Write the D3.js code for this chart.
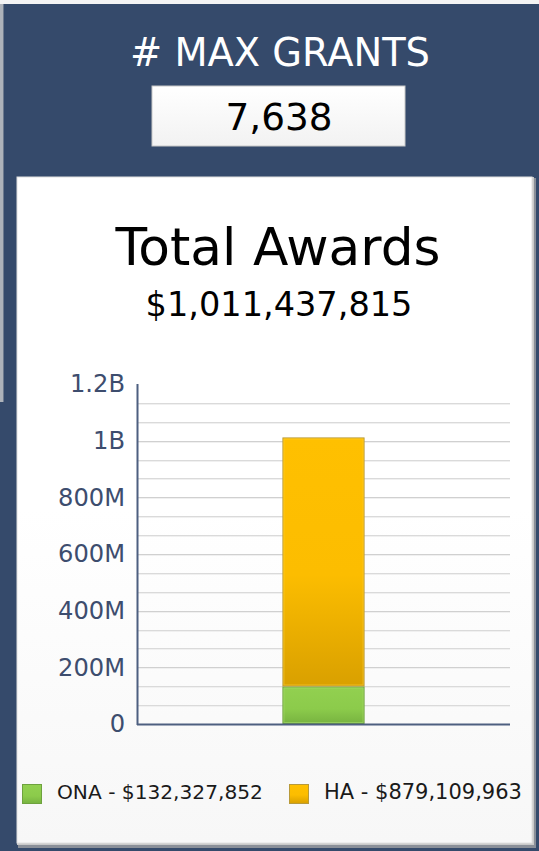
<!DOCTYPE html>
<html>
<head>
<meta charset="utf-8">
<script src="https://cdn.jsdelivr.net/npm/d3@7/dist/d3.min.js"></script>
<style>
html,body{margin:0;padding:0;background:#354a6b;}
svg{display:block;}
</style>
</head>
<body>
<svg id="c" width="539" height="851"></svg>
<script>
// ---- data ----
const headerTitle = "# MAX GRANTS";
const headerValue = "7,638";
const chartTitle = "Total Awards";
const chartSubtitle = "$1,011,437,815";
const categories = ["Total"];
const seriesNames = ["ONA", "HA"];
const seriesValues = [132327852, 879109963];
const legendLabels = ["ONA - $132,327,852", "HA - $879,109,963"];
const tickValues = [0, 200e6, 400e6, 600e6, 800e6, 1000e6, 1200e6];
const tickLabels = ["0", "200M", "400M", "600M", "800M", "1B", "1.2B"];

const svg = d3.select("#c");
const W = 539, H = 851;
const FONT = "'DejaVu Sans', Verdana, sans-serif";

const defs = svg.append("defs");
function grad(id, stops, x2 = 0, y2 = 1) {
  const g = defs.append("linearGradient").attr("id", id)
    .attr("x1", 0).attr("y1", 0).attr("x2", x2).attr("y2", y2);
  stops.forEach(s => g.append("stop").attr("offset", s[0]).attr("stop-color", s[1]));
}
grad("gHA", [[0, "#ffc000"], [0.55, "#fcbd00"], [1, "#d9a000"]]);
grad("gONA", [[0, "#92d050"], [0.6, "#8ccb4b"], [1, "#77b340"]]);
grad("gPanel", [[0, "#ffffff"], [0.5, "#ffffff"], [1, "#f7f7f7"]]);
grad("gBox", [[0, "#ffffff"], [1, "#f2f2f2"]]);

// background
svg.append("rect").attr("width", W).attr("height", H).attr("fill", "#354a6b");
svg.append("rect").attr("x", 0).attr("y", 0).attr("width", W).attr("height", 4).attr("fill", "#f4f4f4");
svg.append("rect").attr("x", 0).attr("y", 4).attr("width", 3).attr("height", 398).attr("fill", "#aeb3ba");
svg.append("rect").attr("x", 3).attr("y", 4).attr("width", 1).attr("height", 398).attr("fill", "#6d7a8e");

function fit(sel, target, base) {
  const w = sel.node().getComputedTextLength();
  sel.attr("font-size", base * target / w);
}

// header
const ht = svg.append("text").attr("x", 280).attr("y", 66).attr("text-anchor", "middle")
  .attr("font-family", FONT).attr("fill", "#ffffff").attr("font-size", 36).text(headerTitle);
fit(ht, 300, 36);

svg.append("rect").attr("x", 152).attr("y", 86).attr("width", 253).attr("height", 60)
  .attr("fill", "url(#gBox)").attr("stroke", "#c8c8c8").attr("stroke-width", 1);
const hv = svg.append("text").attr("x", 279).attr("y", 130).attr("text-anchor", "middle")
  .attr("font-family", FONT).attr("fill", "#000").attr("font-size", 36).text(headerValue);
fit(hv, 107, 36);

// panel with shadow
svg.append("rect").attr("x", 18).attr("y", 178).attr("width", 518).attr("height", 670).attr("fill", "#8a8f98");
svg.append("rect").attr("x", 17).attr("y", 177).attr("width", 517).attr("height", 668).attr("fill", "#c9c9c9");
svg.append("rect").attr("x", 17).attr("y", 177).attr("width", 515).attr("height", 666).attr("fill", "url(#gPanel)")
  .attr("stroke", "#e0e0e0").attr("stroke-width", 1);

const t1 = svg.append("text").attr("x", 278).attr("y", 265).attr("text-anchor", "middle")
  .attr("font-family", FONT).attr("fill", "#000").attr("font-size", 48).text(chartTitle);
fit(t1, 325, 48);
const t2 = svg.append("text").attr("x", 279).attr("y", 316).attr("text-anchor", "middle")
  .attr("font-family", FONT).attr("fill", "#000").attr("font-size", 30).text(chartSubtitle);
fit(t2, 267, 30);

// plot
const plot = {left: 137, right: 510, top: 384, bottom: 724};
const y = d3.scaleLinear().domain([0, 1.2e9]).range([plot.bottom, plot.top]);
const x = d3.scaleBand().domain(categories).range([plot.left, plot.right]).paddingInner(0).paddingOuter(1.77);

// gridlines every 200M/3
const gridVals = d3.range(1, 18).map(i => i * 200e6 / 3);
const g = svg.append("g");
g.selectAll("line.gs").data(gridVals).join("line")
  .attr("x1", plot.left).attr("x2", plot.right)
  .attr("y1", d => Math.round(y(d)) + 1.5).attr("y2", d => Math.round(y(d)) + 1.5)
  .attr("stroke", "#f0f0f0").attr("stroke-width", 1);
g.selectAll("line.gl").data(gridVals).join("line")
  .attr("x1", plot.left).attr("x2", plot.right)
  .attr("y1", d => Math.round(y(d)) + 0.5).attr("y2", d => Math.round(y(d)) + 0.5)
  .attr("stroke", d => (Math.round(d / 1e6) % 200 === 0) ? "#d0d0d0" : "#dadada").attr("stroke-width", 1);

// stacked bars
const stackData = categories.map(c => {
  const o = {cat: c};
  seriesNames.forEach((s, i) => o[s] = seriesValues[i]);
  return o;
});
const stacked = d3.stack().keys(seriesNames)(stackData);
const fills = {ONA: "url(#gONA)", HA: "url(#gHA)"};
const strokes = {ONA: "#6ea23e", HA: "#b89a3a"};
const inner = {ONA: "#a6dc6c", HA: "#ffce33"};
stacked.forEach(layer => {
  layer.forEach(d => {
    const x0 = x(d.data.cat), bw = x.bandwidth();
    const y0 = y(d[1]), y1 = y(d[0]);
    svg.append("rect").attr("x", x0 + 0.5).attr("y", y0 + 0.5).attr("width", bw - 1).attr("height", y1 - y0 - 1)
      .attr("fill", fills[layer.key]).attr("stroke", strokes[layer.key]).attr("stroke-width", 1);
    svg.append("rect").attr("x", x0 + 1.5).attr("y", y0 + 1.5).attr("width", bw - 3).attr("height", Math.max(0, y1 - y0 - 3))
      .attr("fill", "none").attr("stroke", inner[layer.key]).attr("stroke-opacity", 0.6).attr("stroke-width", 1);
  });
});

// axes
const yAxis = d3.axisLeft(y).tickValues(tickValues).tickFormat((d, i) => tickLabels[i]).tickSize(0).tickPadding(12);
const ya = svg.append("g").attr("transform", `translate(${plot.left},0)`).call(yAxis);
ya.select(".domain").remove();
ya.attr("font-size", null).attr("font-family", null);
const tickTexts = ya.selectAll("text").attr("font-family", FONT).attr("font-size", 20).attr("fill", "#3d4d6e");
// size labels so "800M" spans its measured width
let ref800 = tickTexts.filter((d, i) => tickLabels[tickValues.indexOf(d)] === "800M");
const w800 = ref800.node().getComputedTextLength();
tickTexts.attr("font-size", 20 * 67 / w800);
svg.append("line").attr("x1", plot.left + 0.5).attr("x2", plot.left + 0.5).attr("y1", plot.top).attr("y2", plot.bottom + 1)
  .attr("stroke", "#4d5f80").attr("stroke-width", 2);
svg.append("line").attr("x1", plot.left).attr("x2", plot.right).attr("y1", plot.bottom + 0.5).attr("y2", plot.bottom + 0.5)
  .attr("stroke", "#4d5f80").attr("stroke-width", 2);

// legend
const legendX = [22, 289];
const legendFill = ["url(#gONA)", "url(#gHA)"];
const legendStroke = ["#6ea23e", "#b89a3a"];
legendLabels.forEach((lab, i) => {
  svg.append("rect").attr("x", legendX[i] + 0.5).attr("y", 784.5).attr("width", 19).attr("height", 19)
    .attr("fill", legendFill[i]).attr("stroke", legendStroke[i]);
  const t = svg.append("text").attr("x", legendX[i] + 35).attr("y", 799)
    .attr("font-family", FONT).attr("font-size", 17).attr("fill", "#1a1a1a").text(lab);
  fit(t, i === 0 ? 206 : 198, 17);
});
</script>
</body>
</html>
